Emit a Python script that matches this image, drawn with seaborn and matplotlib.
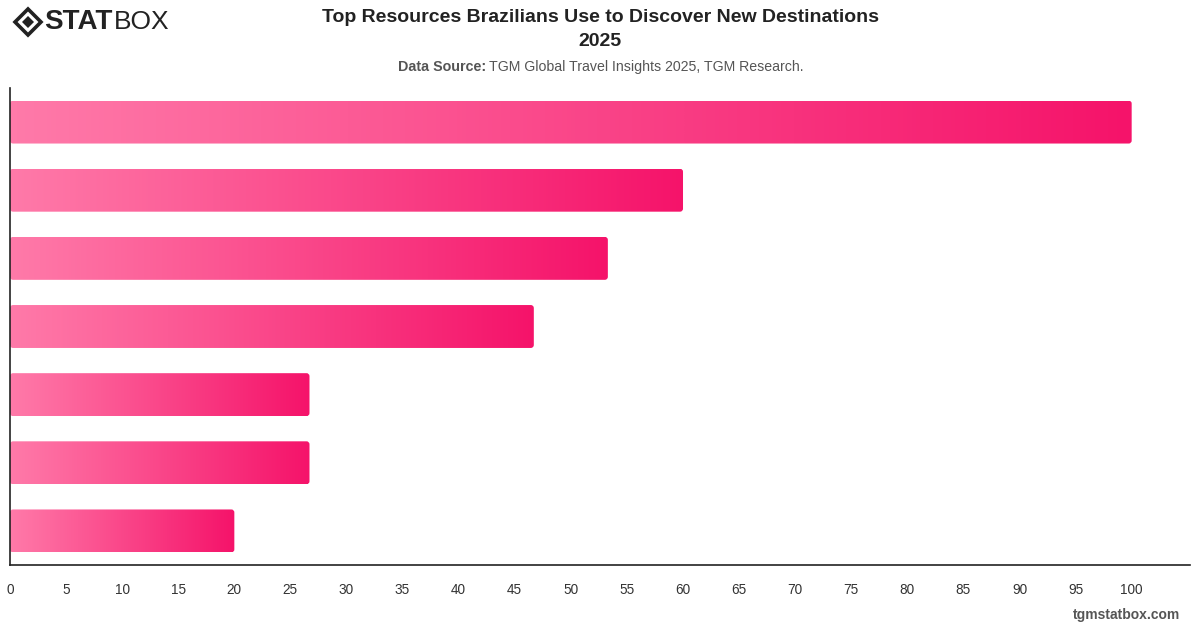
import matplotlib.pyplot as plt
import numpy as np
import pandas as pd
import seaborn as sns
from matplotlib.colors import LinearSegmentedColormap
from matplotlib.patches import FancyBboxPatch, Polygon

# values (category names are not shown on the chart)
categories = ["Resource 1", "Resource 2", "Resource 3", "Resource 4",
              "Resource 5", "Resource 6", "Resource 7"]
values = [100, 60, 53.3, 46.7, 26.7, 26.7, 20]
x_ticks = list(range(0, 101, 5))

W, H = 1200, 628


def px(x, y):
    """Pixel position (from top-left) to figure fraction."""
    return x / W, 1 - y / H


sns.set_style("white")
plt.rcParams["font.family"] = ["Liberation Sans", "DejaVu Sans"]

fig = plt.figure(figsize=(W / 100, H / 100), dpi=100)
ax = fig.add_axes([10 / W, (H - 565) / H, 1180 / W, 477 / H])

df = pd.DataFrame({"resource": categories, "score": values})
sns.barplot(data=df, x="score", y="resource", orient="h", width=0.63,
            color="#F5146A", ax=ax)

cmap = LinearSegmentedColormap.from_list("pinks", ["#FF7AA9", "#F5136A"])
grad = np.linspace(0, 1, 256)[None, :]
for bar in list(ax.patches):
    x0, y0 = bar.get_x(), bar.get_y()
    w, h = bar.get_width(), bar.get_height()
    bar.set_visible(False)
    shape = FancyBboxPatch((x0, y0), w, h,
                           boxstyle="round,pad=0,rounding_size=0.27",
                           mutation_aspect=0.165, facecolor="none",
                           edgecolor="none", transform=ax.transData)
    ax.add_patch(shape)
    im = ax.imshow(grad, extent=[x0, x0 + w, y0 + h, y0], aspect="auto",
                   cmap=cmap, interpolation="bicubic", zorder=2)
    im.set_clip_path(shape)

ax.set_xlim(0, 105.2)
ax.set_ylim(6.5, -0.5)
ax.set_xticks(x_ticks)
ax.set_xticklabels([str(t) for t in x_ticks])
ax.set_yticks([])
ax.set_xlabel("")
ax.set_ylabel("")
ax.tick_params(axis="x", length=0, pad=13, labelsize=9.8, labelcolor="#333333")
for side in ["top", "right"]:
    ax.spines[side].set_visible(False)
for side in ["left", "bottom"]:
    ax.spines[side].set_color("#222222")
    ax.spines[side].set_linewidth(1.2)

# titles
fig.text(*px(600, 17), "Top Resources Brazilians Use to Discover New Destinations",
         ha="center", va="center", fontsize=14, fontweight="bold", color="#222222")
fig.text(*px(600, 41), "2025", ha="center", va="center", fontsize=14,
         fontweight="bold", color="#222222")
fig.text(*px(486, 67), "Data Source:", ha="right", va="center", fontsize=10.3,
         fontweight="bold", color="#555555")
fig.text(*px(489, 67), "TGM Global Travel Insights 2025, TGM Research.",
         ha="left", va="center", fontsize=10.2, color="#555555")
fig.text(*px(1180, 615), "tgmstatbox.com", ha="right", va="center",
         fontsize=10, fontweight="bold", color="#555555")

# logo
cx, cy = 28, 22
outer = [px(cx - 13, cy), px(cx, cy - 13), px(cx + 13, cy), px(cx, cy + 13)]
inner = [px(cx - 6, cy), px(cx, cy - 6), px(cx + 6, cy), px(cx, cy + 6)]
fig.patches.append(Polygon(outer, closed=True, facecolor="none",
                           edgecolor="#222222", linewidth=2.6,
                           transform=fig.transFigure, figure=fig))
fig.patches.append(Polygon(inner, closed=True, facecolor="#222222",
                           edgecolor="none", transform=fig.transFigure,
                           figure=fig))
fig.text(*px(44, 22), "STAT", ha="left", va="center", fontsize=20,
         fontweight="heavy", color="#222222")
fig.text(*px(114, 22), "BOX", ha="left", va="center", fontsize=19,
         color="#222222")

fig.savefig("out.png", dpi=100)
